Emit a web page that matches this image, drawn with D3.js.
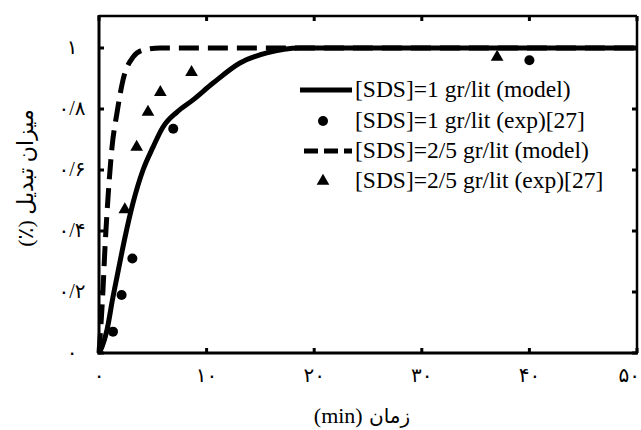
<!DOCTYPE html>
<html><head><meta charset="utf-8">
<script src="https://cdn.jsdelivr.net/npm/d3@7"></script>
<style>body{margin:0;background:#fff}svg{display:block}</style>
</head><body>
<script>
const xTicks = [0, 10, 20, 30, 40, 50];
const xTickLabels = ["۰", "۱۰", "۲۰", "۳۰", "۴۰", "۵۰"];
const yTicks = [0, 0.2, 0.4, 0.6, 0.8, 1];
const yTickLabels = ["۰", "۰/۲", "۰/۴", "۰/۶", "۰/۸", "۱"];

const model1X = [0, 0.28, 0.74, 1.3, 1.67, 2.42, 3.16, 4.09, 5.02, 5.95, 7.25, 8.74, 10.6, 13.1, 15.6, 18.7, 50];
const model1Y = [0, 0.02, 0.075, 0.184, 0.249, 0.38, 0.492, 0.6, 0.675, 0.741, 0.79, 0.83, 0.885, 0.951, 0.984, 1.0, 1.0];
const model25X = [0, 0.37, 0.56, 0.84, 1.21, 1.67, 2.23, 3.16, 4.1, 5.7, 50];
const model25Y = [0, 0.207, 0.348, 0.511, 0.675, 0.787, 0.895, 0.97, 0.993, 1.0, 1.0];
const exp1X = [1.3, 2.1, 3.1, 6.9, 40];
const exp1Y = [0.07, 0.19, 0.31, 0.735, 0.96];
const exp25X = [2.4, 3.5, 4.55, 5.7, 8.6, 37];
const exp25Y = [0.47, 0.675, 0.79, 0.855, 0.92, 0.97];

const legendLabels = ["[SDS]=1 gr/lit (model)", "[SDS]=1 gr/lit (exp)[27]", "[SDS]=2/5 gr/lit (model)", "[SDS]=2/5 gr/lit (exp)[27]"];

const W = 641, H = 430;
const svg = d3.select("body").append("svg").attr("width", W).attr("height", H);
const x = d3.scaleLinear().domain([0, 50]).range([99, 637]);
const y = d3.scaleLinear().domain([0, 1]).range([353, 48]);
const yTop = y(1.105);

const line = d3.line().x(d => x(d[0])).y(d => y(d[1])).curve(d3.curveMonotoneX);
const zip = (a, b) => a.map((v, i) => [v, b[i]]);

// curves
svg.append("path").datum(zip(model1X, model1Y)).attr("d", line)
  .attr("fill", "none").attr("stroke", "#000").attr("stroke-width", 5);
svg.append("path").datum(zip(model25X, model25Y)).attr("d", line)
  .attr("fill", "none").attr("stroke", "#000").attr("stroke-width", 5)
  .attr("stroke-dasharray", "20,9");

const tri = d3.symbol().type(d3.symbolTriangle).size(70);
svg.selectAll(".c").data(zip(exp1X, exp1Y)).join("circle")
  .attr("cx", d => x(d[0])).attr("cy", d => y(d[1])).attr("r", 5).attr("fill", "#000");
svg.selectAll(".t").data(zip(exp25X, exp25Y)).join("path")
  .attr("d", tri).attr("transform", d => `translate(${x(d[0])},${y(d[1])})`).attr("fill", "#000");

// frame
const g = svg.append("g");
g.append("line").attr("x1", x(0)).attr("x2", x(50)).attr("y1", yTop).attr("y2", yTop).attr("stroke", "#000").attr("stroke-width", 2.5);
g.append("line").attr("x1", x(50)).attr("x2", x(50)).attr("y1", yTop).attr("y2", y(0)).attr("stroke", "#000").attr("stroke-width", 2.5);
g.append("line").attr("x1", x(0)).attr("x2", x(0)).attr("y1", yTop - 1).attr("y2", y(0) + 1.5).attr("stroke", "#000").attr("stroke-width", 3);
g.append("line").attr("x1", x(0) - 1.5).attr("x2", x(50) + 1).attr("y1", y(0)).attr("y2", y(0)).attr("stroke", "#000").attr("stroke-width", 3);

// ticks
xTicks.forEach(t => {
  g.append("line").attr("x1", x(t)).attr("x2", x(t)).attr("y1", y(0)).attr("y2", y(0) - 5).attr("stroke", "#000").attr("stroke-width", 3);
  g.append("line").attr("x1", x(t)).attr("x2", x(t)).attr("y1", yTop).attr("y2", yTop + 5).attr("stroke", "#000").attr("stroke-width", 3);
});
yTicks.forEach(t => {
  g.append("line").attr("x1", x(0)).attr("x2", x(0) + 5).attr("y1", y(t)).attr("y2", y(t)).attr("stroke", "#000").attr("stroke-width", 3);
  g.append("line").attr("x1", x(50)).attr("x2", x(50) - 5).attr("y1", y(t)).attr("y2", y(t)).attr("stroke", "#000").attr("stroke-width", 3);
});

const font = "'Liberation Serif','Times New Roman','DejaVu Sans',serif";
const xl = svg.selectAll(".xl").data(xTicks).join("text")
  .attr("x", d => x(d)).attr("y", 382).attr("text-anchor", "middle")
  .attr("font-family", font).attr("font-size", 20).text((d, i) => xTickLabels[i]);
xl.each(function() {
  const b = this.getBBox();
  if (b.x + b.width > W - 1) d3.select(this).attr("x", +d3.select(this).attr("x") - (b.x + b.width - (W - 1)));
});
svg.selectAll(".yl").data(yTicks).join("text")
  .attr("x", 72).attr("y", d => y(d) + 6).attr("text-anchor", "middle")
  .attr("font-family", font).attr("font-size", 20).attr("direction", "ltr").text((d, i) => yTickLabels[i]);

const xt = svg.append("text").attr("x", 362).attr("y", 423).attr("text-anchor", "middle").attr("direction", "rtl")
  .attr("font-family", font).attr("font-size", 22);
xt.append("tspan").attr("font-family", "'DejaVu Sans',sans-serif").attr("font-size", 20).text("زمان ");
xt.append("tspan").attr("font-family", "'Liberation Serif','Times New Roman',serif").text("(min)");
svg.append("text").attr("transform", "translate(33,178) rotate(-90)").attr("text-anchor", "middle").attr("direction", "rtl")
  .attr("font-family", font).attr("font-size", 22).text("میزان تبدیل (٪)");

// legend
const lg = svg.append("g");
lg.append("rect").attr("x", 297).attr("y", 68).attr("width", 330).attr("height", 128).attr("fill", "#fff");
const rows = [90, 121, 151, 181];
lg.append("line").attr("x1", 300).attr("x2", 352).attr("y1", rows[0]).attr("y2", rows[0]).attr("stroke", "#000").attr("stroke-width", 5);
lg.append("circle").attr("cx", 323).attr("cy", rows[1]).attr("r", 5).attr("fill", "#000");
lg.append("line").attr("x1", 300).attr("x2", 352).attr("y1", rows[2]).attr("y2", rows[2]).attr("stroke", "#000").attr("stroke-width", 5).attr("stroke-dasharray", "14,6").attr("stroke-dashoffset", -4);
lg.append("path").attr("d", tri).attr("transform", `translate(323,${rows[3]})`).attr("fill", "#000");
legendLabels.forEach((t, i) => {
  lg.append("text").attr("x", 355).attr("y", rows[i] + 7).attr("font-family", font).attr("font-size", 23.5).text(t);
});
</script>
</body></html>
